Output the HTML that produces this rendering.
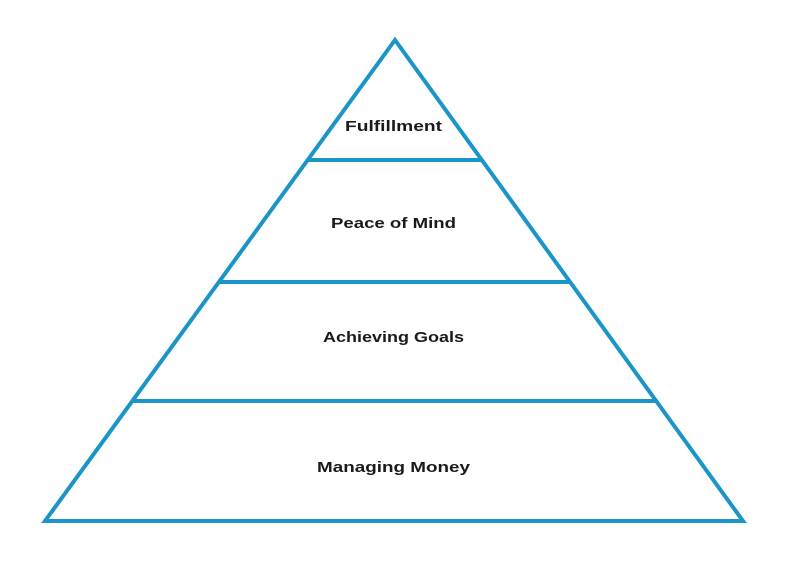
<!DOCTYPE html>
<html><head><style>
html,body{margin:0;padding:0;background:#fff;width:800px;height:565px;overflow:hidden}
svg{display:block}
text{font-family:"Liberation Sans",sans-serif;font-weight:bold;font-size:15px;fill:#1a1a1a}
</style></head><body>
<svg width="800" height="565" viewBox="0 0 800 565">
<g stroke="#1b95c8" stroke-width="4" fill="none" stroke-linejoin="miter">
<polygon points="395,40 45,521 743,521"/>
<line x1="308" y1="160" x2="482" y2="160"/>
<line x1="219" y1="282" x2="570" y2="282"/>
<line x1="133" y1="401" x2="656" y2="401"/>
</g>
<text x="345" y="131" textLength="97" lengthAdjust="spacingAndGlyphs">Fulfillment</text>
<text x="331" y="228" textLength="125" lengthAdjust="spacingAndGlyphs">Peace of Mind</text>
<text x="323" y="342" textLength="141" lengthAdjust="spacingAndGlyphs">Achieving Goals</text>
<text x="317" y="472" textLength="153" lengthAdjust="spacingAndGlyphs">Managing Money</text>
</svg>
</body></html>
